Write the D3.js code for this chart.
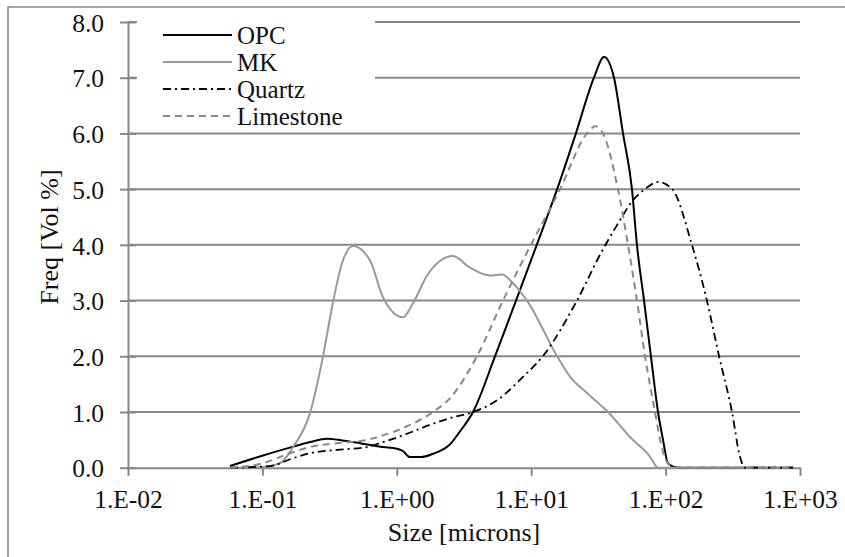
<!DOCTYPE html>
<html>
<head>
<meta charset="utf-8">
<script src="https://cdn.jsdelivr.net/npm/d3@7/dist/d3.min.js"></script>
<style>
  html, body { margin: 0; padding: 0; background: #fff; }
  svg { display: block; }
  svg text { font-family: "Liberation Serif", "Tinos", "Times New Roman", "DejaVu Serif", serif !important; fill: #111; }
</style>
</head>
<body>
<svg id="chart" width="845" height="557"></svg>
<script>
// ---- data (size in microns, frequency in vol %) ----
const seriesNames = ["OPC", "MK", "Quartz", "Limestone"];

const opcSize = [0.0574, 0.101, 0.16, 0.226, 0.303, 0.391, 0.532, 0.789, 1.0, 1.11, 1.25, 1.5, 1.86, 2.49, 2.95, 3.69, 5.38, 7.71, 11.0, 15.6, 21.5, 29.3, 34.8, 41.3, 48.2, 56.2, 61.2, 69.1, 77.8, 87.8, 95.7, 104, 114, 130, 200, 400, 887];
const opcFreq = [0.03, 0.22, 0.36, 0.46, 0.52, 0.49, 0.44, 0.37, 0.34, 0.3, 0.19, 0.19, 0.25, 0.42, 0.65, 1.0, 2.0, 3.0, 4.0, 5.0, 6.0, 7.0, 7.37, 7.0, 6.0, 5.0, 4.0, 3.0, 2.0, 1.0, 0.5, 0.08, 0.02, 0, 0, 0, 0];

const mkSize = [0.0594, 0.096, 0.135, 0.169, 0.226, 0.282, 0.335, 0.391, 0.472, 0.632, 0.789, 1.11, 1.32, 1.68, 2.62, 3.51, 4.94, 6.07, 7.2, 9.31, 15.6, 19.5, 26.0, 37.3, 54.3, 76.5, 87.8, 200, 400, 887];
const mkFreq = [0.0, 0.01, 0.08, 0.37, 0.98, 1.99, 2.97, 3.67, 3.98, 3.72, 3.06, 2.70, 2.95, 3.45, 3.80, 3.59, 3.45, 3.47, 3.33, 3.0, 2.0, 1.63, 1.34, 1.0, 0.55, 0.2, 0.0, 0, 0, 0];

const quartzSize = [0.0574, 0.114, 0.169, 0.226, 0.359, 0.6, 0.789, 1.11, 1.77, 2.49, 3.69, 5.57, 8.69, 12.2, 21.9, 32.5, 43.4, 57.2, 72.8, 87.8, 112, 157, 203, 250, 312, 358, 390, 500, 887];
const quartzFreq = [0.0, 0.03, 0.17, 0.26, 0.32, 0.37, 0.46, 0.58, 0.77, 0.89, 1.0, 1.21, 1.63, 2.0, 3.0, 3.82, 4.35, 4.8, 5.03, 5.13, 5.0, 4.0, 3.0, 2.0, 1.0, 0.19, 0.0, 0, 0];

const limeSize = [0.0574, 0.101, 0.16, 0.226, 0.359, 0.6, 0.789, 1.11, 1.86, 2.49, 3.95, 6.17, 9.47, 16.4, 26.0, 30.0, 34.2, 44.2, 52.5, 61.2, 70.3, 83.4, 92, 104, 120, 200, 400, 887];
const limeFreq = [0.0, 0.08, 0.26, 0.37, 0.44, 0.5, 0.58, 0.71, 1.0, 1.25, 2.0, 3.0, 3.9, 5.0, 6.0, 6.13, 6.0, 5.0, 4.0, 3.0, 2.0, 1.0, 0.45, 0.08, 0.0, 0, 0, 0];

const xTickValues = [0.01, 0.1, 1, 10, 100, 1000];
const xTickLabels = ["1.E-02", "1.E-01", "1.E+00", "1.E+01", "1.E+02", "1.E+03"];
const yTickValues = [0, 1, 2, 3, 4, 5, 6, 7, 8];
const yTickLabels = ["0.0", "1.0", "2.0", "3.0", "4.0", "5.0", "6.0", "7.0", "8.0"];

const xTitle = "Size [microns]";
const yTitle = "Freq [Vol %]";

// ---- drawing ----
const svg = d3.select("#chart");
const pLeft = 128, pRight = 800, pTop = 22, pBottom = 467.7;
const grid = "#878787";
const FONT = "'Liberation Serif', 'Tinos', 'Times New Roman', 'DejaVu Serif', serif";

const x = d3.scaleLog().domain([0.01, 1000]).range([pLeft, pRight]);
const y = d3.scaleLinear().domain([0, 8]).range([pBottom, pTop]);

// outer frame
svg.append("rect").attr("x", 8).attr("y", 7).attr("width", 900).attr("height", 600)
  .attr("fill", "none").attr("stroke", grid).attr("stroke-width", 1.5);

// gridlines
svg.append("g").selectAll("line").data(yTickValues.filter(v => v > 0)).join("line")
  .attr("x1", pLeft).attr("x2", pRight)
  .attr("y1", d => y(d)).attr("y2", d => y(d))
  .attr("stroke", grid).attr("stroke-width", 2);

// x axis
const xAxis = d3.axisBottom(x).tickValues(xTickValues)
  .tickFormat((d, i) => xTickLabels[i]).tickSize(8).tickSizeOuter(0);
const gx = svg.append("g").attr("transform", `translate(0,${pBottom})`).call(xAxis)
  .attr("font-family", FONT);
gx.select(".domain").attr("stroke", grid).attr("stroke-width", 2);
gx.selectAll(".tick line").attr("stroke", grid).attr("stroke-width", 2);
gx.selectAll(".tick text").attr("font-size", "25.5px").attr("fill", "#111")
  .attr("dy", null).attr("y", 40);

// y axis
const yAxis = d3.axisLeft(y).tickValues(yTickValues)
  .tickFormat((d, i) => yTickLabels[i]).tickSize(8).tickSizeOuter(0);
const gy = svg.append("g").attr("transform", `translate(${pLeft},0)`).call(yAxis)
  .attr("font-family", FONT);
gy.select(".domain").attr("stroke", grid).attr("stroke-width", 2);
gy.selectAll(".tick line").attr("stroke", grid).attr("stroke-width", 2).attr("x2", -8).attr("x1", 8);
gy.selectAll(".tick text").attr("font-size", "25.5px").attr("fill", "#111")
  .attr("x", -24).attr("dy", "0.36em");

// series
const seriesDefs = [
  { name: seriesNames[0], xs: opcSize, ys: opcFreq, color: "#000", dash: null, w: 2 },
  { name: seriesNames[1], xs: mkSize, ys: mkFreq, color: "#999", dash: null, w: 2 },
  { name: seriesNames[2], xs: quartzSize, ys: quartzFreq, color: "#000", dash: "8,4,2,4", w: 1.8 },
  { name: seriesNames[3], xs: limeSize, ys: limeFreq, color: "#888", dash: "7,5", w: 2 }
];

const line = d3.line().x(d => x(d[0])).y(d => y(d[1])).curve(d3.curveMonotoneX);

seriesDefs.forEach(s => {
  const pts = s.xs.map((v, i) => [v, s.ys[i]]);
  svg.append("path").datum(pts)
    .attr("d", line)
    .attr("fill", "none")
    .attr("stroke", s.color)
    .attr("stroke-width", s.w)
    .attr("stroke-dasharray", s.dash)
    .attr("stroke-linejoin", "round");
});

// legend
const lg = svg.append("g").attr("font-family", FONT);
lg.append("rect").attr("x", 137).attr("y", 15).attr("width", 238).attr("height", 112).attr("fill", "#fff");
seriesDefs.forEach((s, i) => {
  const ly = 35 + i * 27;
  lg.append("line").attr("x1", 163).attr("x2", 232).attr("y1", ly).attr("y2", ly)
    .attr("stroke", s.color).attr("stroke-width", s.w).attr("stroke-dasharray", s.dash);
  lg.append("text").attr("x", 237).attr("y", ly + 9).attr("font-size", "25px").text(s.name);
});

// axis titles
svg.append("text").attr("x", (pLeft + pRight) / 2).attr("y", 541).attr("font-family", FONT)
  .attr("text-anchor", "middle").attr("font-size", "26px").text(xTitle);
svg.append("text").attr("transform", "translate(58,237) rotate(-90)").attr("font-family", FONT)
  .attr("text-anchor", "middle").attr("font-size", "26px").text(yTitle);
</script>
</body>
</html>
